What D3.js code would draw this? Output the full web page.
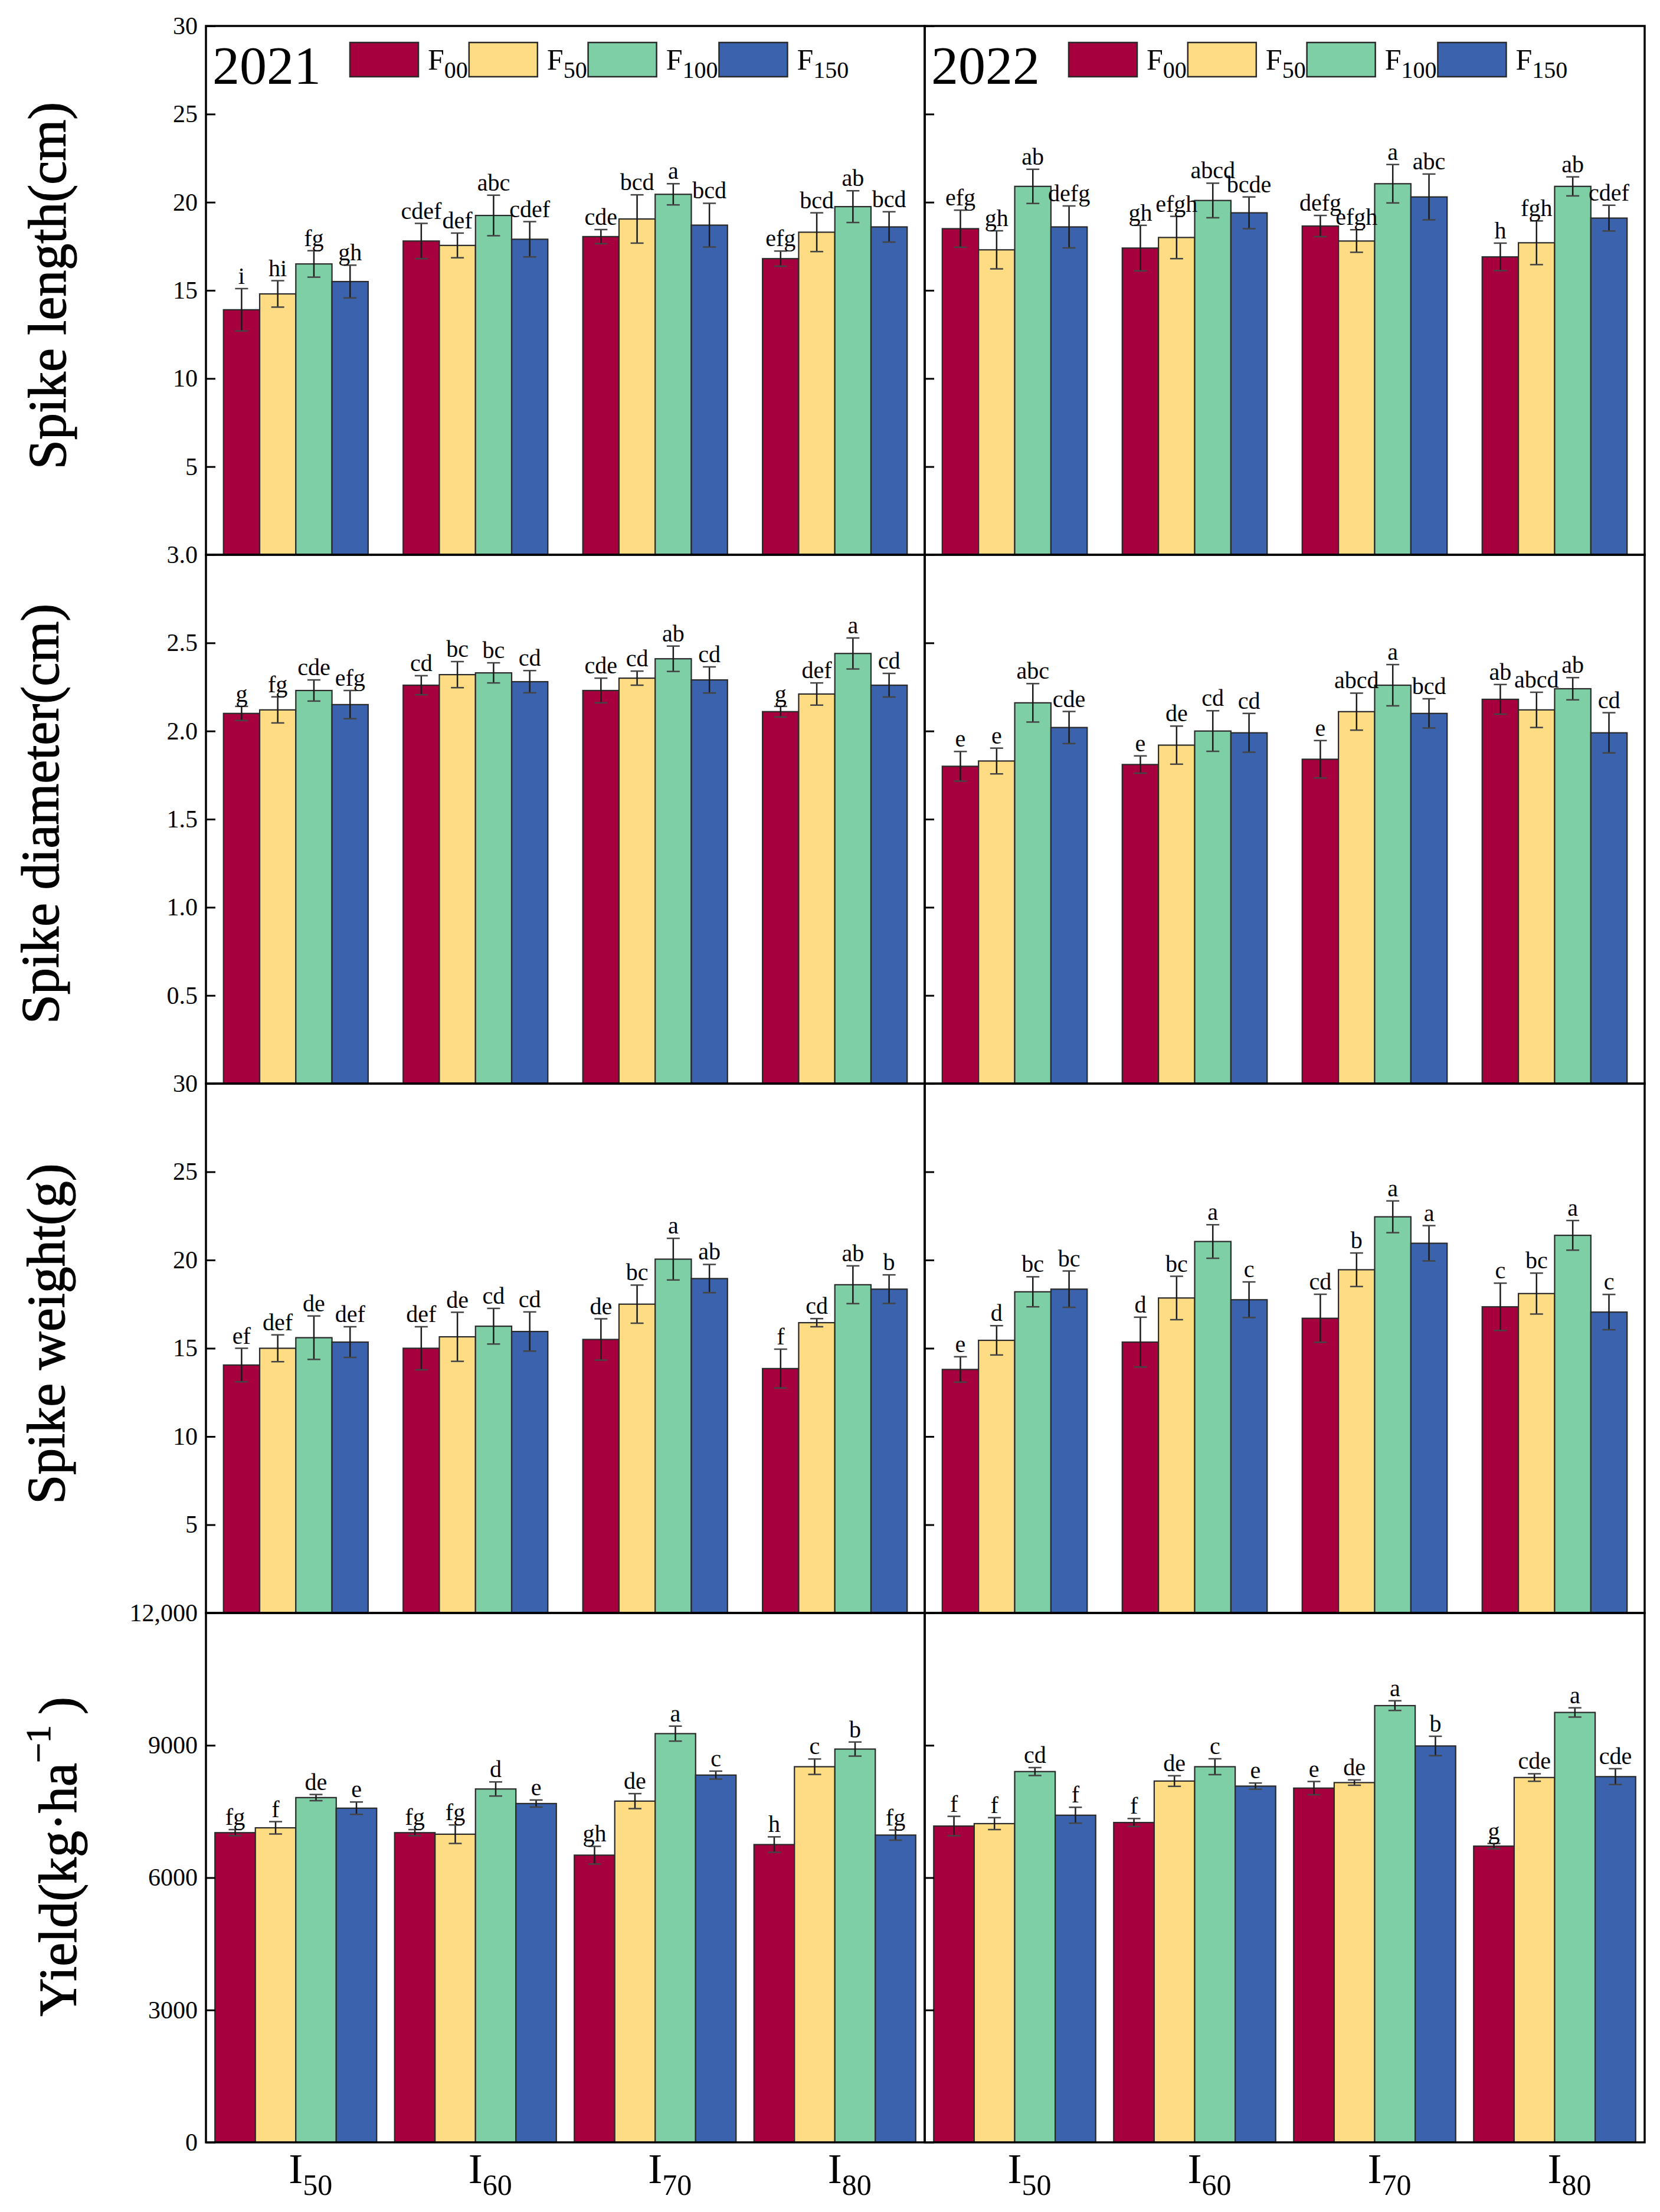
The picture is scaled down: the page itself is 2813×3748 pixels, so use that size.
<!DOCTYPE html>
<html><head><meta charset="utf-8">
<script src="https://cdn.jsdelivr.net/npm/d3@7"></script>
<style>body{margin:0;background:#fff} svg text{font-family:"Liberation Serif","Times New Roman",serif;}</style>
</head><body><svg id="chart"></svg>
<script>
// ---------------- DATA ----------------
const years = ["2021", "2022"];
const categories = ["I50", "I60", "I70", "I80"];
const categorySub = ["50", "60", "70", "80"];
const series = ["F00", "F50", "F100", "F150"];
const seriesSub = ["00", "50", "100", "150"];
const seriesColors = ["#A6003E", "#FEDC84", "#7ECFA6", "#3A62AD"];

// Spike length (cm)  [category][series]
const length2021 = [[13.9,14.8,16.5,15.5],[17.8,17.55,19.25,17.9],[18.05,19.05,20.45,18.7],[16.8,18.3,19.75,18.6]];
const lengthErr2021 = [[1.2,0.75,0.75,0.93],[1.0,0.7,1.15,1.0],[0.4,1.37,0.6,1.24],[0.43,1.1,0.9,0.86]];
const lengthLet2021 = [["i","hi","fg","gh"],["cdef","def","abc","cdef"],["cde","bcd","a","bcd"],["efg","bcd","ab","bcd"]];
const length2022 = [[18.5,17.3,20.9,18.6],[17.4,18.0,20.1,19.4],[18.65,17.8,21.05,20.3],[16.9,17.7,20.9,19.1]];
const lengthErr2022 = [[1.05,1.08,0.97,1.19],[1.29,1.2,0.98,0.9],[0.6,0.64,1.09,1.3],[0.78,1.24,0.54,0.73]];
const lengthLet2022 = [["efg","gh","ab","defg"],["gh","efgh","abcd","bcde"],["defg","efgh","a","abc"],["h","fgh","ab","cdef"]];

// Spike diameter (cm)
const diam2021 = [[2.10,2.12,2.23,2.15],[2.26,2.32,2.33,2.28],[2.23,2.30,2.41,2.29],[2.11,2.21,2.44,2.26]];
const diamErr2021 = [[0.04,0.074,0.06,0.08],[0.054,0.074,0.057,0.063],[0.07,0.04,0.072,0.074],[0.03,0.063,0.088,0.067]];
const diamLet2021 = [["g","fg","cde","efg"],["cd","bc","bc","cd"],["cde","cd","ab","cd"],["g","def","a","cd"]];
const diam2022 = [[1.80,1.83,2.16,2.02],[1.81,1.92,2.00,1.99],[1.84,2.11,2.26,2.10],[2.18,2.12,2.24,1.99]];
const diamErr2022 = [[0.084,0.073,0.109,0.091],[0.049,0.108,0.115,0.11],[0.106,0.105,0.117,0.083],[0.084,0.1,0.063,0.114]];
const diamLet2022 = [["e","e","abc","cde"],["e","de","cd","cd"],["e","abcd","a","bcd"],["ab","abcd","ab","cd"]];

// Spike weight (g)
const weight2021 = [[14.05,15.0,15.6,15.35],[15.0,15.65,16.25,15.95],[15.5,17.5,20.05,18.95],[13.85,16.45,18.6,18.35]];
const weightErr2021 = [[0.95,0.76,1.23,0.87],[1.22,1.39,1.01,1.11],[1.17,1.08,1.18,0.8],[1.1,0.23,1.07,0.81]];
const weightLet2021 = [["ef","def","de","def"],["def","de","cd","cd"],["de","bc","a","ab"],["f","cd","ab","b"]];
const weight2022 = [[13.8,15.45,18.2,18.35],[15.35,17.85,21.05,17.75],[16.7,19.45,22.45,20.95],[17.35,18.1,21.4,17.05]];
const weightErr2022 = [[0.72,0.83,0.85,1.03],[1.41,1.23,0.95,1.01],[1.36,0.95,0.9,1.0],[1.34,1.16,0.84,1.0]];
const weightLet2022 = [["e","d","bc","bc"],["d","bc","a","c"],["cd","b","a","a"],["c","bc","a","c"]];

// Yield (kg·ha-1)
const yield2021 = [[7020,7130,7815,7575],[7020,6985,8010,7680],[6510,7735,9265,8325],[6750,8515,8915,6965]];
const yieldErr2021 = [[70,140,70,140],[70,210,160,80],[200,170,170,90],[175,175,160,115]];
const yieldLet2021 = [["fg","f","de","e"],["fg","fg","d","e"],["gh","de","a","c"],["h","c","b","fg"]];
const yield2022 = [[7170,7225,8405,7415],[7250,8190,8515,8075],[8030,8155,9900,8985],[6715,8270,9745,8290]];
const yieldErr2022 = [[220,135,90,180],[90,120,180,70],[150,60,110,220],[60,85,105,180]];
const yieldLet2022 = [["f","f","cd","f"],["f","de","c","e"],["e","de","a","b"],["g","cde","a","cde"]];

// Axis ticks
const lengthTicks = [5,10,15,20,25,30];
const lengthTickLabels = ["5","10","15","20","25","30"];
const diamTicks = [0.5,1.0,1.5,2.0,2.5,3.0];
const diamTickLabels = ["0.5","1.0","1.5","2.0","2.5","3.0"];
const weightTicks = [5,10,15,20,25,30];
const weightTickLabels = ["5","10","15","20","25","30"];
const yieldTicks = [0,3000,6000,9000,12000];
const yieldTickLabels = ["0","3000","6000","9000","12,000"];

// ---------------- LAYOUT ----------------
const W = 2813, H = 3748;
const FONT = '"Liberation Serif","Times New Roman",serif';
const panelX = [[349,1567],[1567,2787]];
const rowY = [44,940,1836,2733,3630];

const rows = [
  {vals:[length2021,length2022], errs:[lengthErr2021,lengthErr2022], lets:[lengthLet2021,lengthLet2022],
   max:30, ticks:lengthTicks, labels:lengthTickLabels, title:"Spike length(cm)", pi:0.195, po:0.0977, tx:80, ty:484},
  {vals:[diam2021,diam2022], errs:[diamErr2021,diamErr2022], lets:[diamLet2021,diamLet2022],
   max:3, ticks:diamTicks, labels:diamTickLabels, title:"Spike diameter(cm)", pi:0.195, po:0.0977, tx:68, ty:1379},
  {vals:[weight2021,weight2022], errs:[weightErr2021,weightErr2022], lets:[weightLet2021,weightLet2022],
   max:30, ticks:weightTicks, labels:weightTickLabels, title:"Spike weight(g)", pi:0.195, po:0.0977, tx:78, ty:2260},
  {vals:[yield2021,yield2022], errs:[yieldErr2021,yieldErr2022], lets:[yieldLet2021,yieldLet2022],
   max:12000, ticks:yieldTicks, labels:yieldTickLabels, title:null, pi:0.1, po:0.05, tx:98, ty:3146}
];

const svg = d3.select("#chart").attr("width", W).attr("height", H)
  .attr("font-family", FONT);
svg.append("rect").attr("width", W).attr("height", H).attr("fill", "#fff");

const bandsBottom = [];

rows.forEach((row, ri) => {
  const top = rowY[ri], bottom = rowY[ri+1];
  const y = d3.scaleLinear().domain([0, row.max]).range([bottom, top]);
  years.forEach((yr, yi) => {
    const [L, R] = panelX[yi];
    const x0 = d3.scaleBand().domain(categories).range([L, R]).paddingInner(row.pi).paddingOuter(row.po);
    const x1 = d3.scaleBand().domain(series).range([0, x0.bandwidth()]);
    if (ri === rows.length - 1) bandsBottom.push(x0);
    const g = svg.append("g");
    const items = [];
    categories.forEach((c, ci) => series.forEach((s, si) => {
      items.push({c, s, si, v: row.vals[yi][ci][si], e: row.errs[yi][ci][si], l: row.lets[yi][ci][si],
                  x: x0(c) + x1(s), w: x1.bandwidth()});
    }));
    g.selectAll("rect.bar").data(items).join("rect").attr("class", "bar")
      .attr("x", d => d.x).attr("width", d => d.w)
      .attr("y", d => y(d.v)).attr("height", d => y(0) - y(d.v))
      .attr("fill", d => seriesColors[d.si]).attr("stroke", "#2a2a2a").attr("stroke-width", 2.2);
    // error bars
    const eb = g.selectAll("g.eb").data(items).join("g").attr("class", "eb");
    eb.append("line").attr("x1", d => d.x + d.w/2).attr("x2", d => d.x + d.w/2)
      .attr("y1", d => y(d.v + d.e)).attr("y2", d => y(d.v - d.e))
      .attr("stroke", "#1a1a1a").attr("stroke-width", 2.5);
    eb.append("line").attr("x1", d => d.x + d.w/2 - 11).attr("x2", d => d.x + d.w/2 + 11)
      .attr("y1", d => y(d.v + d.e)).attr("y2", d => y(d.v + d.e))
      .attr("stroke", "#444").attr("stroke-width", 2.5);
    eb.append("line").attr("x1", d => d.x + d.w/2 - 11).attr("x2", d => d.x + d.w/2 + 11)
      .attr("y1", d => y(d.v - d.e)).attr("y2", d => y(d.v - d.e))
      .attr("stroke", "#444").attr("stroke-width", 2.5);
    // significance letters
    g.selectAll("text.let").data(items).join("text").attr("class", "let")
      .attr("x", d => d.x + d.w/2).attr("y", d => y(d.v + d.e) - 8)
      .attr("text-anchor", "middle").attr("font-size", 40).attr("font-family", FONT).attr("fill", "#000")
      .text(d => d.l);
    // frame
    svg.append("rect").attr("x", L).attr("y", top).attr("width", R - L).attr("height", bottom - top)
      .attr("fill", "none").attr("stroke", "#000").attr("stroke-width", 3.5);
    // axis (ticks inward)
    const axis = d3.axisLeft(y).tickValues(row.ticks).tickSizeInner(-16).tickSizeOuter(0).tickPadding(14)
      .tickFormat((d, i) => yi === 0 ? row.labels[i] : "");
    const ag = svg.append("g").attr("transform", `translate(${L},0)`).call(axis);
    ag.attr("font-family", FONT).attr("font-size", 42);
    ag.select(".domain").remove();
    ag.selectAll(".tick line").attr("stroke", "#000").attr("stroke-width", 3);
    ag.selectAll(".tick text").attr("font-size", 42).attr("font-family", FONT).attr("fill", "#000");
  });
  // y-axis title
  const t = svg.append("text")
    .attr("transform", `translate(${row.tx},${row.ty}) rotate(-90)`)
    .attr("text-anchor", "middle").attr("dominant-baseline", "central")
    .attr("font-size", 90).attr("font-family", FONT).attr("fill", "#000")
    .attr("stroke", "#000").attr("stroke-width", 1.2);
  if (row.title) {
    t.text(row.title);
  } else {
    t.append("tspan").text("Yield(kg·ha");
    t.append("tspan").attr("font-size", 60).attr("dy", -33).text("\u22121");
    t.append("tspan").attr("font-size", 90).attr("dy", 33).text("\u2009)");
  }
});

// legends & year labels
years.forEach((yr, yi) => {
  const L = panelX[yi][0];
  svg.append("text").attr("x", L + 11).attr("y", 142).attr("font-size", 92).attr("font-family", FONT)
    .attr("fill", "#000").text(yr);
  let x = L + 244;
  series.forEach((s, si) => {
    svg.append("rect").attr("x", x).attr("y", 72).attr("width", 116).attr("height", 58)
      .attr("fill", seriesColors[si]).attr("stroke", "#2a2a2a").attr("stroke-width", 2.5);
    const tx = x + 116 + 16;
    const t = svg.append("text").attr("x", tx).attr("y", 118).attr("font-size", 50)
      .attr("font-family", FONT).attr("fill", "#000");
    t.append("tspan").text("F");
    t.append("tspan").attr("font-size", 40).attr("dy", 14).text(seriesSub[si]);
    const len = t.node().getComputedTextLength();
    x = tx + len + 2;
  });
});

// category labels (bottom)
bandsBottom.forEach(x0 => {
  categories.forEach((c, ci) => {
    const cx = x0(c) + x0.bandwidth()/2;
    svg.append("text").attr("x", cx).attr("y", 3699).attr("text-anchor", "middle")
      .attr("font-size", 72).attr("font-family", FONT).attr("fill", "#000").text("I");
    svg.append("text").attr("x", cx + 12).attr("y", 3719).attr("text-anchor", "start")
      .attr("font-size", 50).attr("font-family", FONT).attr("fill", "#000").text(categorySub[ci]);
  });
});
</script>
</body></html>
